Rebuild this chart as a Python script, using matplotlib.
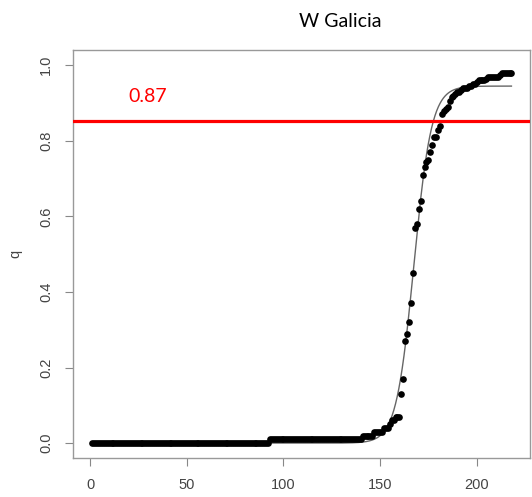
import matplotlib
matplotlib.use('Agg')
import matplotlib.pyplot as plt
import numpy as np

# observed points: runs of (value, count) for the flat start, then one value per day
flat_runs = [(0.0, 92), (0.01, 48)]
rise_vals = [0.02, 0.02, 0.02, 0.02, 0.02, 0.02, 0.03, 0.03, 0.03, 0.03,   # 141-150
             0.03, 0.04, 0.04, 0.04, 0.05, 0.06, 0.06, 0.07, 0.07, 0.07,   # 151-160
             0.13, 0.17, 0.27, 0.29, 0.32, 0.37, 0.45, 0.57, 0.58, 0.62,   # 161-170
             0.64, 0.71, 0.73, 0.745, 0.75, 0.77, 0.79, 0.81, 0.81, 0.83,  # 171-180
             0.84, 0.87, 0.88, 0.885, 0.89, 0.905, 0.915, 0.92, 0.925, 0.93,  # 181-190
             0.93, 0.935, 0.94, 0.94, 0.94, 0.945, 0.945, 0.95, 0.95, 0.955,  # 191-200
             0.96, 0.96, 0.96, 0.96, 0.965, 0.97, 0.97, 0.97, 0.97, 0.97,  # 201-210
             0.97, 0.975, 0.98, 0.98, 0.98, 0.98, 0.98, 0.98]              # 211-218

# fitted logistic curve parameters
fit_K = 0.945
fit_rate = 0.22
fit_mid = 167.5

threshold = 0.852
threshold_label = "0.87"
title = "W Galicia"

q = []
for v, n in flat_runs:
    q += [v] * n
q += rise_vals
q = np.array(q)
days = np.arange(1, len(q) + 1)

plt.rcParams['font.family'] = 'Liberation Sans'

fig = plt.figure(figsize=(5.32, 4.97), dpi=100)
ax = fig.add_axes([0.1367, 0.078, 0.8595, 0.821])

xs = np.linspace(1, 218, 500)
ax.plot(xs, fit_K / (1 + np.exp(-fit_rate * (xs - fit_mid))), color='#666666', lw=1.0, zorder=2)
ax.plot(days, q, 'o', color='black', ms=4.8, mew=0, zorder=3)
ax.axhline(threshold, color='#ff0000', lw=2.3, zorder=4)
ax.text(19.5, 0.918, threshold_label, color='#ff0000', fontsize=14, family='Lato',
        ha='left', va='center')

ax.set_xlim(-9.1, 227.6)
ax.set_ylim(-0.04, 1.04)
ax.set_xticks([0, 50, 100, 150, 200])
ax.set_yticks([0.0, 0.2, 0.4, 0.6, 0.8, 1.0])
ax.set_yticklabels(['0.0', '0.2', '0.4', '0.6', '0.8', '1.0'], rotation=90, va='center')
ax.tick_params(length=6, width=0.8, color='#888888', labelcolor='#444444', labelsize=10.5, pad=8)
for s in ax.spines.values():
    s.set_color('#999999')
    s.set_linewidth(1.0)
ax.set_ylabel('q', color='#444444', fontsize=10.5, labelpad=12)

fig.text(0.64, 0.957, title, fontsize=14, family='Lato', ha='center', va='center', color='black')

fig.savefig('out.png', dpi=100)
